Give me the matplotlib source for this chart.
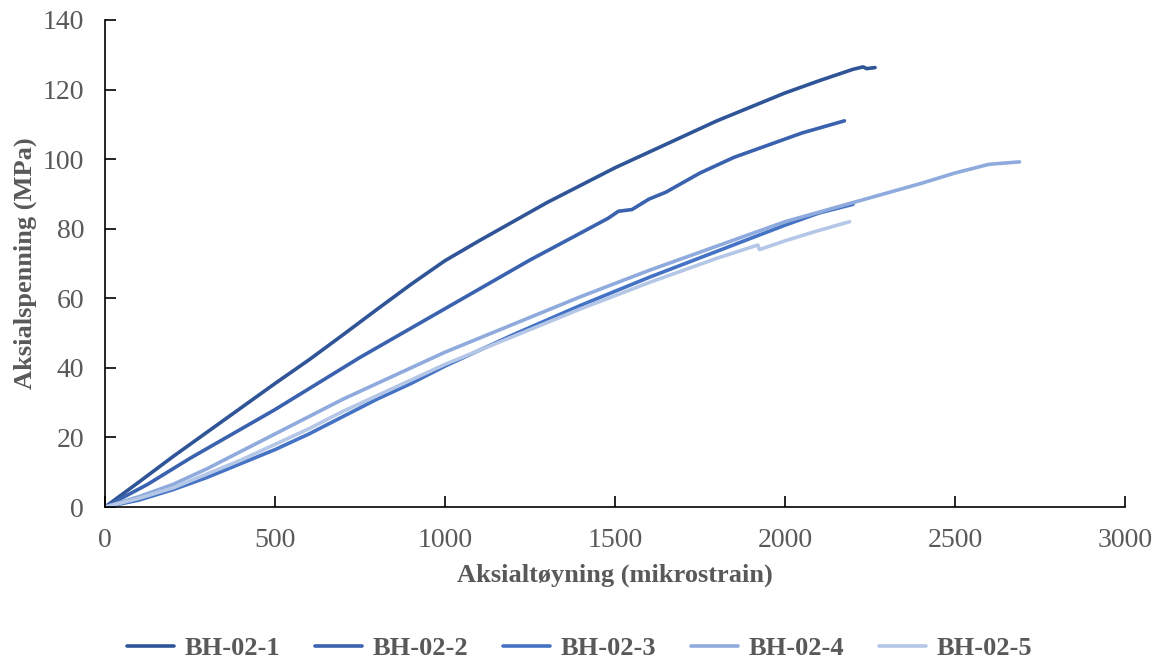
import matplotlib.pyplot as plt

# strain (mikrostrain) / stress (MPa)
x1 = [0, 100, 200, 300, 400, 500, 600, 700, 800, 900, 1000, 1100, 1200, 1300, 1400,
      1500, 1600, 1700, 1800, 1900, 2000, 2100, 2200, 2230, 2240, 2265]
y1 = [0, 7.2, 14.5, 21.5, 28.5, 35.5, 42.3, 49.5, 56.8, 64, 70.8, 76.5, 82, 87.5, 92.5,
      97.5, 102, 106.5, 111, 115, 119, 122.5, 125.8, 126.5, 126, 126.3]

x2 = [0, 125, 250, 375, 500, 625, 750, 875, 1000, 1125, 1250, 1375, 1480, 1510, 1550,
      1600, 1650, 1750, 1850, 1950, 2050, 2175]
y2 = [0, 6.5, 14, 21, 28, 35.5, 43, 50, 57, 64, 71, 77.5, 83, 85, 85.5,
      88.5, 90.5, 96, 100.5, 104, 107.5, 111]

x3 = [0, 100, 200, 300, 400, 500, 600, 700, 800, 900, 1000, 1200, 1400, 1600, 1800,
      2000, 2100, 2200]
y3 = [0, 2, 5, 8.5, 12.5, 16.5, 21, 26, 31, 35.5, 40.5, 49.5, 58, 66, 73.5,
      81, 84.5, 87]

x4 = [0, 100, 200, 300, 400, 500, 600, 700, 800, 900, 1000, 1200, 1400, 1600, 1800,
      2000, 2200, 2400, 2500, 2600, 2690]
y4 = [0, 3, 6.5, 11, 16, 21, 26, 31, 35.5, 40, 44.5, 52.5, 60.5, 68, 75,
      82, 87.5, 93, 96, 98.5, 99.2]

x5 = [0, 100, 200, 300, 400, 500, 600, 700, 800, 900, 1000, 1200, 1400, 1600, 1800,
      1920, 1925, 2000, 2100, 2190]
y5 = [0, 2.5, 5.5, 9.5, 13.5, 18, 22.5, 27.5, 32, 36.5, 41, 49, 57, 64.5, 71.5,
      75.3, 74, 76.5, 79.5, 82]

labels = ['BH-02-1', 'BH-02-2', 'BH-02-3', 'BH-02-4', 'BH-02-5']
colors = ['#2F5597', '#3A62AE', '#4472C4', '#8FAADC', '#B4C7E7']

plt.rcParams['font.family'] = ['Liberation Serif', 'DejaVu Serif']
grey = '#595959'

fig = plt.figure(figsize=(11.59, 6.64), dpi=100)
ax = fig.add_axes([0.0906, 0.2364, 0.88, 0.7336])

for xs, ys, lab, col in zip([x1, x2, x3, x4, x5], [y1, y2, y3, y4, y5], labels, colors):
    ax.plot(xs, ys, color=col, lw=2.6, label=lab, solid_capstyle='round')

ax.set_xlim(0, 3000)
ax.set_ylim(0, 140)
ax.set_xticks(range(0, 3001, 500))
ax.set_yticks(range(0, 141, 20))
for s in ['top', 'right']:
    ax.spines[s].set_visible(False)
for s in ['left', 'bottom']:
    ax.spines[s].set_color('black')
    ax.spines[s].set_linewidth(1.2)
ax.tick_params(direction='in', length=8, width=1.2, labelsize=20, labelcolor=grey)
ax.tick_params(axis='x', pad=15)
ax.tick_params(axis='y', pad=15)

ax.set_xlabel('Aksialtøyning (mikrostrain)', fontsize=19, fontweight='bold', color=grey, labelpad=8)
ax.set_ylabel('Aksialspenning (MPa)', fontsize=19, fontweight='bold', color=grey, labelpad=4)

leg = fig.legend(loc='center', bbox_to_anchor=(0.5, 0.024), ncol=5, frameon=False,
                 prop={'size': 19, 'weight': 'bold'}, handlelength=1.8,
                 handletextpad=0.4, columnspacing=1.3)
for t in leg.get_texts():
    t.set_color(grey)

fig.savefig('out.png', dpi=100)
